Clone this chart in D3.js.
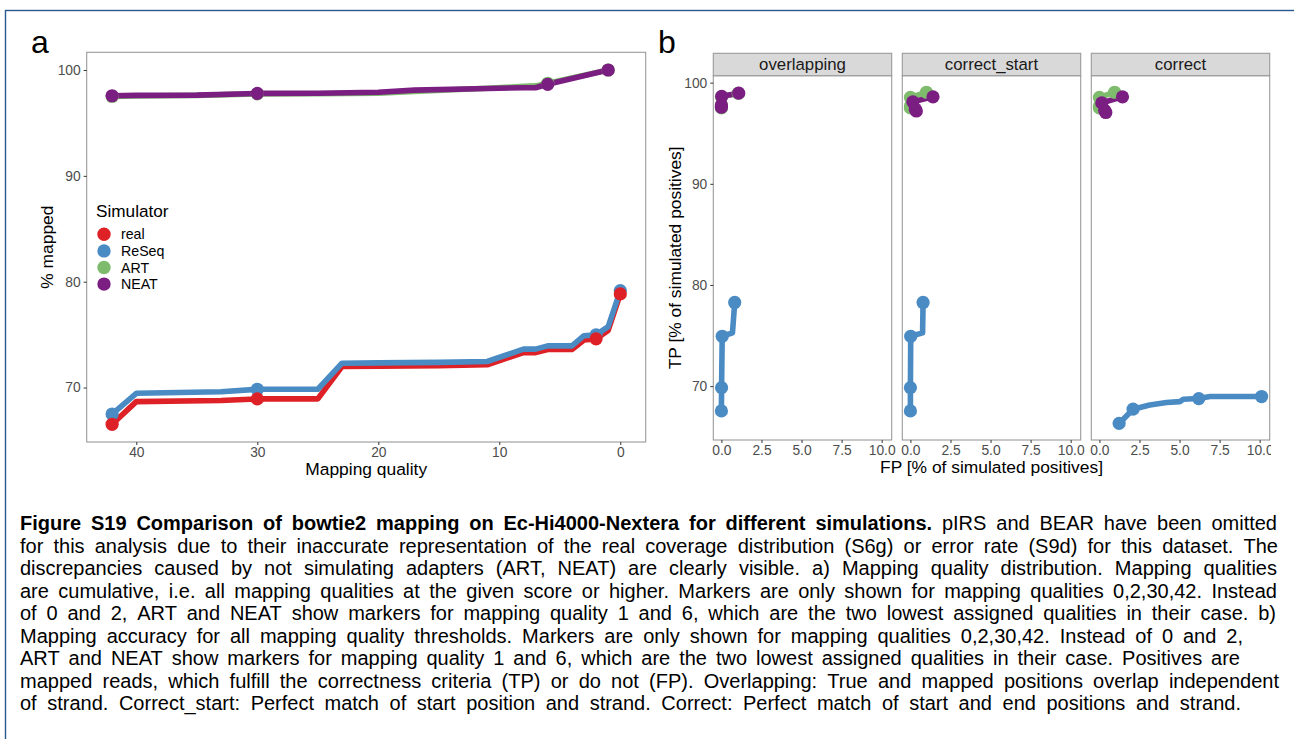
<!DOCTYPE html>
<html>
<head>
<meta charset="utf-8">
<script src="https://cdn.jsdelivr.net/npm/d3@7"></script>
<style>
  html, body { margin: 0; padding: 0; background: #fff; }
  svg { display: block; }
</style>
</head>
<body>
<svg id="fig" width="1294" height="739"></svg>
<script>
// ---------------- data ----------------
const simulators = ["real", "ReSeq", "ART", "NEAT"];
const simColors  = ["#DD2126", "#4A8BC4", "#7EBB6D", "#7B1E82"];

// a) cumulative % of reads mapped at or above each mapping-quality threshold
const mqRealReSeq = [42, 40, 33, 30, 25, 23, 20, 15, 11, 8, 7, 6, 4, 3, 2, 1, 0];
const mappedReal  = [66.53, 68.67, 68.78, 68.93, 68.93, 71.99, 72.02, 72.06, 72.15, 73.30, 73.30, 73.60, 73.60, 74.50, 74.60, 75.40, 78.85];
const mappedReSeq = [67.50, 69.46, 69.60, 69.84, 69.84, 72.30, 72.33, 72.38, 72.46, 73.63, 73.63, 73.94, 73.94, 74.90, 74.98, 75.76, 79.16];
const mqArtNeat   = [42, 40, 35, 30, 25, 20, 17, 11, 8, 7, 6, 1];
const mappedART   = [97.50, 97.55, 97.60, 97.75, 97.76, 97.82, 97.98, 98.28, 98.45, 98.50, 98.75, 100.0];
const mappedNEAT  = [97.57, 97.60, 97.63, 97.79, 97.80, 97.90, 98.10, 98.25, 98.33, 98.33, 98.65, 100.0];
const markerMQRealReSeq = [42, 30, 2, 0];
const markerMQArtNeat   = [42, 30, 6, 1];
const mqTicks  = [40, 30, 20, 10, 0];
const pctTicks = [70, 80, 90, 100];

// b) mapping accuracy per criterion: FP and TP in % of simulated positives
const facets  = ["overlapping", "correct_start", "correct"];
const fpTicks = [0, 2.5, 5, 7.5, 10];
const tpTicks = [70, 80, 90, 100];

const mqReSeqB             = [42, 30, 2, 1, 0];
const fpReSeqOverlapping   = [0.00, 0.01, 0.05, 0.69, 0.83];
const tpReSeqOverlapping   = [67.55, 69.85, 74.93, 75.26, 78.27];
const fpReSeqCorrectStart  = [0.00, 0.00, 0.02, 0.76, 0.79];
const tpReSeqCorrectStart  = [67.55, 69.85, 74.93, 75.26, 78.27];
const mqReSeqCorrect       = [42, 30, 23, 15, 11, 8, 2, 1, 0];
const fpReSeqCorrect       = [1.23, 2.10, 3.14, 4.19, 5.02, 5.23, 6.20, 6.90, 10.12];
const tpReSeqCorrect       = [66.31, 67.72, 68.14, 68.38, 68.47, 68.70, 68.77, 68.97, 68.97];

const mqArtNeatB           = [42, 30, 6, 1];
const fpArtOverlapping     = [0.00, 0.00, 0.00, 1.05];
const tpArtOverlapping     = [97.50, 97.75, 98.60, 98.95];
const fpNeatOverlapping    = [0.00, 0.00, 0.02, 1.08];
const tpNeatOverlapping    = [97.57, 97.79, 98.65, 98.96];
const fpArtCorrectStart    = [0.00, 0.00, 0.00, 1.00];
const tpArtCorrectStart    = [97.50, 97.70, 98.55, 99.05];
const fpNeatCorrectStart   = [0.37, 0.30, 0.15, 1.41];
const tpNeatCorrectStart   = [97.20, 97.40, 98.10, 98.60];
const fpArtCorrect         = [0.00, 0.00, 0.00, 0.95];
const tpArtCorrect         = [97.50, 97.70, 98.55, 99.05];
const fpNeatCorrect        = [0.40, 0.33, 0.15, 1.44];
const tpNeatCorrect        = [97.05, 97.25, 98.00, 98.60];

// caption: each line is a list of runs [text, bold]
const captionLines = [
  [["Figure S19 Comparison of bowtie2 mapping on Ec-Hi4000-Nextera for different simulations.", true],
   ["pIRS and BEAR have been omitted", false]],
  [["for this analysis due to their inaccurate representation of the real coverage distribution (S6g) or error rate (S9d) for this dataset. The", false]],
  [["discrepancies caused by not simulating adapters (ART, NEAT) are clearly visible. a) Mapping quality distribution. Mapping qualities", false]],
  [["are cumulative, i.e. all mapping qualities at the given score or higher. Markers are only shown for mapping qualities 0,2,30,42. Instead", false]],
  [["of 0 and 2, ART and NEAT show markers for mapping quality 1 and 6, which are the two lowest assigned qualities in their case. b)", false]],
  [["Mapping accuracy for all mapping quality thresholds. Markers are only shown for mapping qualities 0,2,30,42. Instead of 0 and 2,", false]],
  [["ART and NEAT show markers for mapping quality 1 and 6, which are the two lowest assigned qualities in their case. Positives are", false]],
  [["mapped reads, which fulfill the correctness criteria (TP) or do not (FP). Overlapping: True and mapped positions overlap independent", false]],
  [["of strand. Correct_start: Perfect match of start position and strand. Correct: Perfect match of start and end positions and strand.", false]]
];
const captionLineEnds = [1277, 1278, 1277, 1277, 1276, 1243, 1240, 1279, 1241];

// ---------------- helpers ----------------
const svg = d3.select("#fig");
const PLOT_FONT = "'Liberation Sans', Arial, Helvetica, sans-serif";
const colorOf = d3.scaleOrdinal().domain(simulators).range(simColors);
const expand = ([lo, hi]) => { const d = hi - lo; return [lo - 0.05 * d, hi + 0.05 * d]; };
const zipPts = (xs, ys, mqs) => xs.map((x, i) => ({ x, y: ys[i], mq: mqs[i] }));

svg.append("rect").attr("width", 1294).attr("height", 739).attr("fill", "#fff");

// page frame
svg.append("rect")
  .attr("x", 5.5).attr("y", 10.5).attr("width", 1400).attr("height", 900)
  .attr("fill", "none").attr("stroke", "#2A5790").attr("stroke-width", 1.4);

function styleAxis(g) {
  g.select(".domain").remove();
  g.selectAll(".tick line").attr("stroke", "#333").attr("stroke-width", 1);
  g.selectAll(".tick text").attr("fill", "#4D4D4D")
    .style("font-family", PLOT_FONT).style("font-size", "13.8px");
}

function drawSeries(g, series, x, y) {
  const line = d3.line().x(d => x(d.x)).y(d => y(d.y));
  series.forEach(s => {
    g.append("path").datum(s.pts)
      .attr("d", line).attr("fill", "none")
      .attr("stroke", colorOf(s.sim)).attr("stroke-width", 5.6)
      .attr("stroke-linejoin", "round").attr("stroke-linecap", "butt");
  });
}
function drawMarkers(g, series, x, y) {
  series.forEach(s => {
    g.selectAll(null).data(s.pts.filter(d => s.markers.includes(d.mq)))
      .enter().append("circle")
      .attr("cx", d => x(d.x)).attr("cy", d => y(d.y)).attr("r", 6.6)
      .attr("fill", colorOf(s.sim));
  });
}

// ---------------- panel a ----------------
const A = { left: 86.7, right: 645.7, top: 52.3, bottom: 442 };
const seriesA = [
  { sim: "real",  pts: zipPts(mqRealReSeq, mappedReal,  mqRealReSeq), markers: markerMQRealReSeq },
  { sim: "ReSeq", pts: zipPts(mqRealReSeq, mappedReSeq, mqRealReSeq), markers: markerMQRealReSeq },
  { sim: "ART",   pts: zipPts(mqArtNeat,   mappedART,   mqArtNeat),   markers: markerMQArtNeat },
  { sim: "NEAT",  pts: zipPts(mqArtNeat,   mappedNEAT,  mqArtNeat),   markers: markerMQArtNeat }
];
const allMQ  = seriesA.flatMap(s => s.pts.map(d => d.x));
const allPct = seriesA.flatMap(s => s.pts.map(d => d.y));
const xDomA = expand(d3.extent(allMQ));
const xA = d3.scaleLinear().domain([xDomA[1], xDomA[0]]).range([A.left, A.right]);
const yA = d3.scaleLinear().domain(expand(d3.extent(allPct))).range([A.bottom, A.top]);

const gA = svg.append("g");
gA.append("clipPath").attr("id", "clipA").append("rect")
  .attr("x", A.left).attr("y", A.top).attr("width", A.right - A.left).attr("height", A.bottom - A.top);
const gAData = gA.append("g").attr("clip-path", "url(#clipA)");
drawSeries(gAData, seriesA, xA, yA);
// points are stacked with ReSeq beneath real
drawMarkers(gAData, [seriesA[1], seriesA[0], seriesA[2], seriesA[3]], xA, yA);

gA.append("rect").attr("x", A.left).attr("y", A.top)
  .attr("width", A.right - A.left).attr("height", A.bottom - A.top)
  .attr("fill", "none").attr("stroke", "#9A9A9A").attr("stroke-width", 1.1);

gA.append("g").attr("transform", `translate(0,${A.bottom})`)
  .call(d3.axisBottom(xA).tickValues(mqTicks).tickSize(3).tickPadding(2).tickFormat(d3.format("d")))
  .call(styleAxis);
gA.append("g").attr("transform", `translate(${A.left},0)`)
  .call(d3.axisLeft(yA).tickValues(pctTicks).tickSize(3).tickPadding(3).tickFormat(d3.format("d")))
  .call(styleAxis);

gA.append("text").attr("x", (A.left + A.right) / 2).attr("y", 475)
  .attr("text-anchor", "middle").style("font-family", PLOT_FONT).style("font-size", "17.4px")
  .text("Mapping quality");
gA.append("text").attr("transform", `translate(52.5,${(A.top + A.bottom) / 2}) rotate(-90)`)
  .attr("text-anchor", "middle").style("font-family", PLOT_FONT).style("font-size", "17.4px")
  .text("% mapped");

// legend
const leg = gA.append("g");
leg.append("text").attr("x", 96).attr("y", 216.5)
  .style("font-family", PLOT_FONT).style("font-size", "17.2px").text("Simulator");
simulators.forEach((s, i) => {
  const cy = 234.3 + i * 16.6;
  leg.append("circle").attr("cx", 104).attr("cy", cy).attr("r", 6.7).attr("fill", colorOf(s));
  leg.append("text").attr("x", 121).attr("y", cy + 5)
    .style("font-family", PLOT_FONT).style("font-size", "14.2px").text(s);
});

svg.append("text").attr("x", 31).attr("y", 52.5)
  .style("font-family", PLOT_FONT).style("font-size", "32px").text("a");

// ---------------- panel b ----------------
const B = { lefts: [713.3, 902.3, 1091.3], width: 178.4, stripTop: 53.3, top: 75.7, bottom: 440 };
const seriesB = [
  [
    { sim: "ReSeq", pts: zipPts(fpReSeqOverlapping, tpReSeqOverlapping, mqReSeqB), markers: markerMQRealReSeq },
    { sim: "ART",   pts: zipPts(fpArtOverlapping,   tpArtOverlapping,   mqArtNeatB), markers: markerMQArtNeat },
    { sim: "NEAT",  pts: zipPts(fpNeatOverlapping,  tpNeatOverlapping,  mqArtNeatB), markers: markerMQArtNeat }
  ],
  [
    { sim: "ReSeq", pts: zipPts(fpReSeqCorrectStart, tpReSeqCorrectStart, mqReSeqB), markers: markerMQRealReSeq },
    { sim: "ART",   pts: zipPts(fpArtCorrectStart,   tpArtCorrectStart,   mqArtNeatB), markers: markerMQArtNeat },
    { sim: "NEAT",  pts: zipPts(fpNeatCorrectStart,  tpNeatCorrectStart,  mqArtNeatB), markers: markerMQArtNeat }
  ],
  [
    { sim: "ReSeq", pts: zipPts(fpReSeqCorrect, tpReSeqCorrect, mqReSeqCorrect), markers: markerMQRealReSeq },
    { sim: "ART",   pts: zipPts(fpArtCorrect,   tpArtCorrect,   mqArtNeatB), markers: markerMQArtNeat },
    { sim: "NEAT",  pts: zipPts(fpNeatCorrect,  tpNeatCorrect,  mqArtNeatB), markers: markerMQArtNeat }
  ]
];
const allFP = seriesB.flat().flatMap(s => s.pts.map(d => d.x));
const allTP = seriesB.flat().flatMap(s => s.pts.map(d => d.y));
const xDomB = expand(d3.extent(allFP));
const yB = d3.scaleLinear().domain(expand(d3.extent(allTP))).range([B.bottom, B.top]);

// the figure device ends just right of the last facet
svg.append("clipPath").attr("id", "clipFigB").append("rect")
  .attr("x", 640).attr("y", 0).attr("width", 1271 - 640).attr("height", 739);
const gB = svg.append("g").attr("clip-path", "url(#clipFigB)");

facets.forEach((name, fi) => {
  const left = B.lefts[fi];
  const xB = d3.scaleLinear().domain(xDomB).range([left, left + B.width]);
  const gf = gB.append("g");

  gf.append("clipPath").attr("id", `clipB${fi}`).append("rect")
    .attr("x", left).attr("y", B.top).attr("width", B.width).attr("height", B.bottom - B.top);
  const gd = gf.append("g").attr("clip-path", `url(#clipB${fi})`);
  drawSeries(gd, seriesB[fi], xB, yB);
  drawMarkers(gd, seriesB[fi], xB, yB);

  gf.append("rect").attr("x", left).attr("y", B.top)
    .attr("width", B.width).attr("height", B.bottom - B.top)
    .attr("fill", "none").attr("stroke", "#9A9A9A").attr("stroke-width", 1.1);

  // strip
  gf.append("rect").attr("x", left).attr("y", B.stripTop)
    .attr("width", B.width).attr("height", B.top - B.stripTop)
    .attr("fill", "#D9D9D9").attr("stroke", "#9A9A9A").attr("stroke-width", 1.1);
  gf.append("text").attr("x", left + B.width / 2).attr("y", B.top - 5.5)
    .attr("text-anchor", "middle").attr("fill", "#1A1A1A")
    .style("font-family", PLOT_FONT).style("font-size", "16.8px").text(name);

  gf.append("g").attr("transform", `translate(0,${B.bottom})`)
    .call(d3.axisBottom(xB).tickValues(fpTicks).tickSize(3).tickPadding(2).tickFormat(d3.format(".1f")))
    .call(styleAxis);
  if (fi === 0) {
    gf.append("g").attr("transform", `translate(${left},0)`)
      .call(d3.axisLeft(yB).tickValues(tpTicks).tickSize(3).tickPadding(3).tickFormat(d3.format("d")))
      .call(styleAxis);
  }
});

svg.append("text").attr("x", (B.lefts[0] + B.lefts[2] + B.width) / 2).attr("y", 473)
  .attr("text-anchor", "middle").style("font-family", PLOT_FONT).style("font-size", "17.4px")
  .text("FP [% of simulated positives]");
svg.append("text").attr("transform", `translate(680.5,${(B.top + B.bottom) / 2}) rotate(-90)`)
  .attr("text-anchor", "middle").style("font-family", PLOT_FONT).style("font-size", "17.4px")
  .text("TP [% of simulated positives]");
svg.append("text").attr("x", 658).attr("y", 52.5)
  .style("font-family", PLOT_FONT).style("font-size", "32px").text("b");

// ---------------- caption ----------------
// every word is measured and placed, so each line runs exactly to its right edge
const CAP_FONT = "'Liberation Sans', Arial, sans-serif";
const capX = 20, capY0 = 530, capStep = 22.5;

const meter = svg.append("text").style("font-family", CAP_FONT).attr("visibility", "hidden");
function wordWidth(word, bold, size) {
  meter.style("font-size", size + "px").attr("font-weight", bold ? 700 : 400).text(word);
  return meter.node().getComputedTextLength();
}
const lineWords = captionLines.map(runs =>
  runs.flatMap(([txt, bold]) => txt.split(" ").filter(w => w.length).map(w => ({ w, bold }))));

// size chosen so the last, unjustified line keeps normal word gaps
const refSize = 18;
const spaceAt = size => wordWidth("a a", false, size) - wordWidth("aa", false, size);
const last = lineWords[8];
const lastNatural = d3.sum(last, d => wordWidth(d.w, d.bold, refSize)) + (last.length - 1) * spaceAt(refSize);
const capSize = Math.max(16.5, Math.min(20, refSize * (captionLineEnds[8] - capX) / lastNatural));

lineWords.forEach((words, i) => {
  const widths = words.map(d => wordWidth(d.w, d.bold, capSize));
  const gap = (captionLineEnds[i] - capX - d3.sum(widths)) / Math.max(1, words.length - 1);
  const t = svg.append("text").attr("y", capY0 + i * capStep)
    .style("font-family", CAP_FONT).style("font-size", capSize + "px").attr("fill", "#000");
  let x = capX;
  words.forEach((d, k) => {
    t.append("tspan").attr("x", x.toFixed(2)).attr("font-weight", d.bold ? 700 : 400)
      .text(k < words.length - 1 ? d.w + " " : d.w);
    x += widths[k] + gap;
  });
});
meter.remove();
</script>
</body>
</html>
